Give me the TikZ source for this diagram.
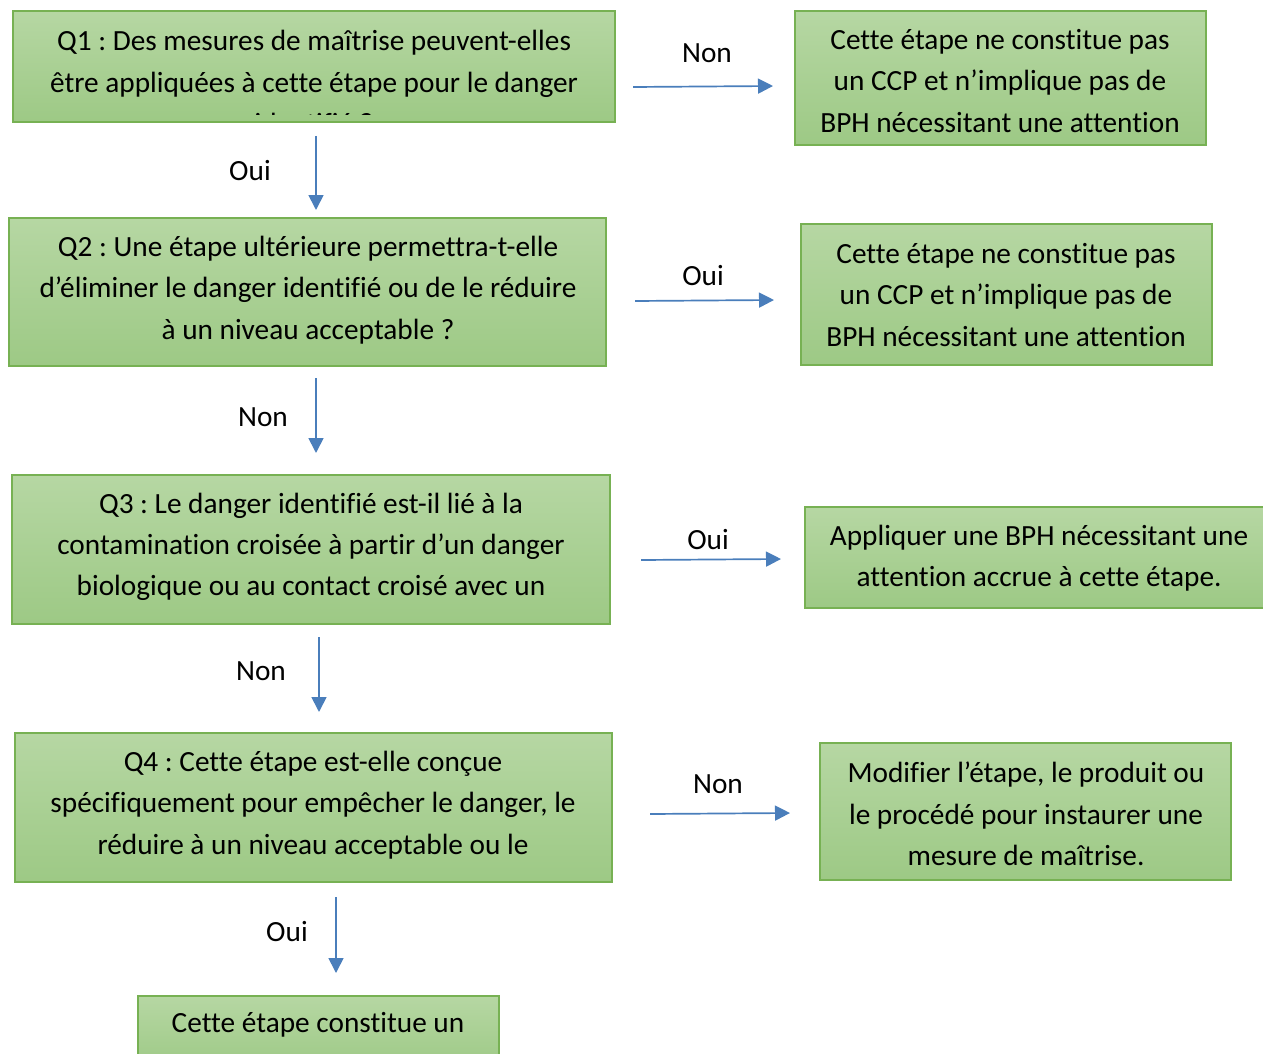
\documentclass[tikz,border=0pt]{standalone}
\usepackage{fontspec}
\setmainfont[Ligatures=NoCommon]{Carlito}
\usetikzlibrary{arrows.meta}
\definecolor{boxtop}{HTML}{B6D7A3}
\definecolor{boxbot}{HTML}{9DC985}
\definecolor{boxline}{HTML}{77B153}
\definecolor{arrblue}{HTML}{4A7EBB}
\tikzset{
  x=1pt, y=-1pt,
  boxshape/.style={draw=boxline, line width=1.2pt, top color=boxtop, bottom color=boxbot},
  boxtext/.style={align=center, inner sep=0pt, font=\fontsize{29.3}{41.3}\selectfont},
  lbl/.style={inner sep=0pt, font=\fontsize{29.3}{35}\selectfont},
  arr/.style={draw=arrblue, line width=1.7pt, -{Triangle[length=15pt,width=15pt]}},
}
\begin{document}
\frenchspacing
\begin{tikzpicture}
\useasboundingbox (0,0) rectangle (1263,1054);
% boxes
\path[boxshape] (13,11) rectangle (615,122);
\path[boxshape] (795,11) rectangle (1206,145);
\path[boxshape] (9,218) rectangle (606,366);
\path[boxshape] (801,224) rectangle (1212,365);
\path[boxshape] (12,475) rectangle (610,624);
\path[boxshape] (805,507) rectangle (1270,608);
\path[boxshape] (15,733) rectangle (612,882);
\path[boxshape] (820,743) rectangle (1231,880);
\path[boxshape] (138,996) rectangle (499,1070);
% texts
\begin{scope}
\clip (13,11) rectangle (615,115);
\node[boxtext] (t1) at (314,82) {Q1 : Des mesures de maîtrise peuvent-elles\\être appliquées à cette étape pour le danger\\identifié ?};
\end{scope}
\node[boxtext] (t2) at (1000,81) {Cette étape ne constitue pas\\un CCP et n’implique pas de\\BPH nécessitant une attention};
\node[boxtext] (t3) at (308,290) {Q2 : Une étape ultérieure permettra-t-elle\\d’éliminer le danger identifié ou de le réduire\\à un niveau acceptable ?};
\node[boxtext] (t4) at (1006,295) {Cette étape ne constitue pas\\un CCP et n’implique pas de\\BPH nécessitant une attention};
\node[boxtext] (t5) at (311,547) {Q3 : Le danger identifié est-il lié à la\\contamination croisée à partir d’un danger\\biologique ou au contact croisé avec un};
\node[boxtext] (t6) at (1039,558) {Appliquer une BPH nécessitant une\\attention accrue à cette étape.};
\node[boxtext] (t7) at (313,805) {Q4 : Cette étape est-elle conçue\\spécifiquement pour empêcher le danger, le\\réduire à un niveau acceptable ou le};
\node[boxtext] (t8) at (1026,814) {Modifier l’étape, le produit ou\\le procédé pour instaurer une\\mesure de maîtrise.};
\node[boxtext] (t9) at (318,1025) {Cette étape constitue un};
% arrow endpoints
\coordinate (a1s) at (633,87);   \coordinate (a1e) at (773,86);
\coordinate (a2s) at (316,136);  \coordinate (a2e) at (316,210);
\coordinate (a3s) at (635,301);  \coordinate (a3e) at (774,300);
\coordinate (a4s) at (316,378);  \coordinate (a4e) at (316,453);
\coordinate (a5s) at (641,560);  \coordinate (a5e) at (781,559);
\coordinate (a6s) at (319,637);  \coordinate (a6e) at (319,712);
\coordinate (a7s) at (650,814);  \coordinate (a7e) at (790,813);
\coordinate (a8s) at (336,897);  \coordinate (a8e) at (336,973);
\draw[arr] (a1s) -- (a1e);
\draw[arr] (a2s) -- (a2e);
\draw[arr] (a3s) -- (a3e);
\draw[arr] (a4s) -- (a4e);
\draw[arr] (a5s) -- (a5e);
\draw[arr] (a6s) -- (a6e);
\draw[arr] (a7s) -- (a7e);
\draw[arr] (a8s) -- (a8e);
% labels
\node[lbl] (l1) at (707,53) {Non};
\node[lbl] (l2) at (250,171) {Oui};
\node[lbl] (l3) at (703,276) {Oui};
\node[lbl] (l4) at (263,417) {Non};
\node[lbl] (l5) at (708,540) {Oui};
\node[lbl] (l6) at (261,671) {Non};
\node[lbl] (l7) at (718,784) {Non};
\node[lbl] (l8) at (287,932) {Oui};
\end{tikzpicture}
\end{document}
